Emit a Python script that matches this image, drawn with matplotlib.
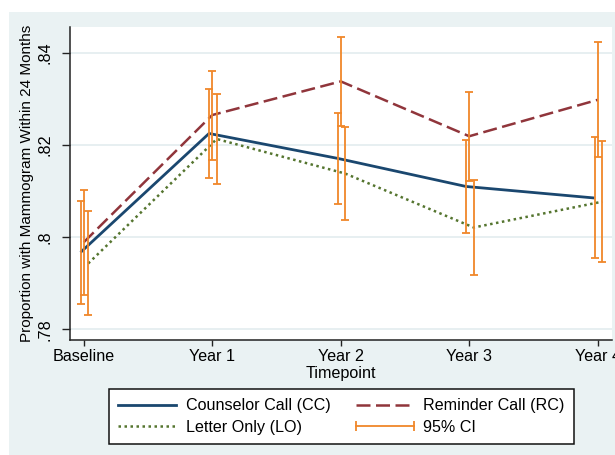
import matplotlib
matplotlib.use("Agg")
import matplotlib.pyplot as plt
from matplotlib.patches import Rectangle
from matplotlib.lines import Line2D
from matplotlib.legend_handler import HandlerLine2D
import numpy as np

plt.rcParams['font.family'] = ['Liberation Sans', 'DejaVu Sans']

timepoints = ["Baseline", "Year 1", "Year 2", "Year 3", "Year 4"]

cc_mean = [0.7967, 0.8225, 0.8171, 0.8110, 0.8085]
cc_low  = [0.7855, 0.8128, 0.8072, 0.8010, 0.7954]
cc_high = [0.8079, 0.8322, 0.8270, 0.8210, 0.8217]

rc_mean = [0.7989, 0.8265, 0.8338, 0.8219, 0.8298]
rc_low  = [0.7875, 0.8168, 0.8242, 0.8122, 0.8173]
rc_high = [0.8103, 0.8361, 0.8434, 0.8316, 0.8424]

lo_mean = [0.7943, 0.8213, 0.8138, 0.8021, 0.8077]
lo_low  = [0.7831, 0.8115, 0.8038, 0.7919, 0.7946]
lo_high = [0.8056, 0.8310, 0.8239, 0.8124, 0.8209]

yticks = [0.78, 0.80, 0.82, 0.84]
ytick_labels = [".78", ".8", ".82", ".84"]

NAVY = "#1a476f"
MAROON = "#90353b"
GREEN = "#55752f"
ORANGE = "#f0872a"
BG = "#eaf2f3"
FS = 11.6

W, H = 615, 455
fig = plt.figure(figsize=(W / 100, H / 100), dpi=100, facecolor="white")
fig.patches.append(Rectangle((9 / W, 0), 1 - 9 / W, (H - 12) / H,
                             transform=fig.transFigure, facecolor=BG,
                             edgecolor="none", zorder=-10))

ax = fig.add_axes([70 / W, (H - 339.5) / H, (612 - 70) / W, (339.5 - 27) / H])
ax.set_facecolor("white")

x = np.arange(len(timepoints))
off_cc, off_rc, off_lo = -0.025, 0.0, 0.035

ax.plot(x + off_cc, cc_mean, color=NAVY, lw=2.0, solid_capstyle="butt", zorder=3)
ax.plot(x + off_rc, rc_mean, color=MAROON, lw=1.8, linestyle=(0, (5.6, 2.2)), zorder=3)
ax.plot(x + off_lo, lo_mean, color=GREEN, lw=1.8, linestyle=(0, (1, 1.4)), zorder=3)

def ci(xpos, mean, low, high):
    mean = np.array(mean)
    yerr = [mean - np.array(low), np.array(high) - mean]
    ax.errorbar(xpos, mean, yerr=yerr, fmt="none", ecolor=ORANGE, elinewidth=1.3,
                capsize=2.6, capthick=1.3, zorder=4)

ci(x + off_cc, cc_mean, cc_low, cc_high)
ci(x + off_rc, rc_mean, rc_low, rc_high)
ci(x + off_lo, lo_mean, lo_low, lo_high)

ax.set_xlim(-0.107, 4.111)
ax.set_ylim(0.7778, 0.8456)

ax.set_yticks(yticks)
ax.set_yticklabels(ytick_labels, rotation=90, va="center", fontsize=FS)
ax.set_xticks(x)
ax.set_xticklabels(timepoints, fontsize=FS)

ax.grid(axis="y", color="#e3ecef", lw=1.2)
ax.set_axisbelow(True)
for s in ["top", "right"]:
    ax.spines[s].set_visible(False)
for s in ["left", "bottom"]:
    ax.spines[s].set_linewidth(1.1)
    ax.spines[s].set_color("#222222")
ax.tick_params(axis="y", length=5.5, width=1.0, pad=7, color="#222222")
ax.tick_params(axis="x", length=4.5, width=1.0, pad=2.5, color="#222222")

ax.set_ylabel("Proportion with Mammogram Within 24 Months", fontsize=11, labelpad=2.5)
ax.set_xlabel("Timepoint", fontsize=FS, labelpad=1.5)

h_cc = Line2D([], [], color=NAVY, lw=2.0)
h_rc = Line2D([], [], color=MAROON, lw=1.8, linestyle=(0, (5.6, 2.2)))
h_lo = Line2D([], [], color=GREEN, lw=1.8, linestyle=(0, (1, 1.4)))
h_ci = Line2D([], [], color=ORANGE, lw=1.3, marker="|", markersize=7.5, markeredgewidth=1.3)

leg = fig.legend([h_cc, h_lo, h_rc, h_ci],
                 ["Counselor Call (CC)", "Letter Only (LO)", "Reminder Call (RC)", "95% CI"],
                 ncol=2, loc="center", bbox_to_anchor=(341.5 / W, 1 - 416.5 / H),
                 fontsize=FS, frameon=True, fancybox=False, shadow=False,
                 handlelength=3.6, handletextpad=0.6, columnspacing=1.55,
                 labelspacing=0.4, borderpad=0.55,
                 handler_map={h_ci: HandlerLine2D(numpoints=2, marker_pad=0)})
leg.get_frame().set_edgecolor("#111111")
leg.get_frame().set_linewidth(1.1)
leg.get_frame().set_facecolor("white")
leg.get_frame().set_alpha(1)

fig.savefig("out.png", dpi=100, facecolor=fig.get_facecolor())
